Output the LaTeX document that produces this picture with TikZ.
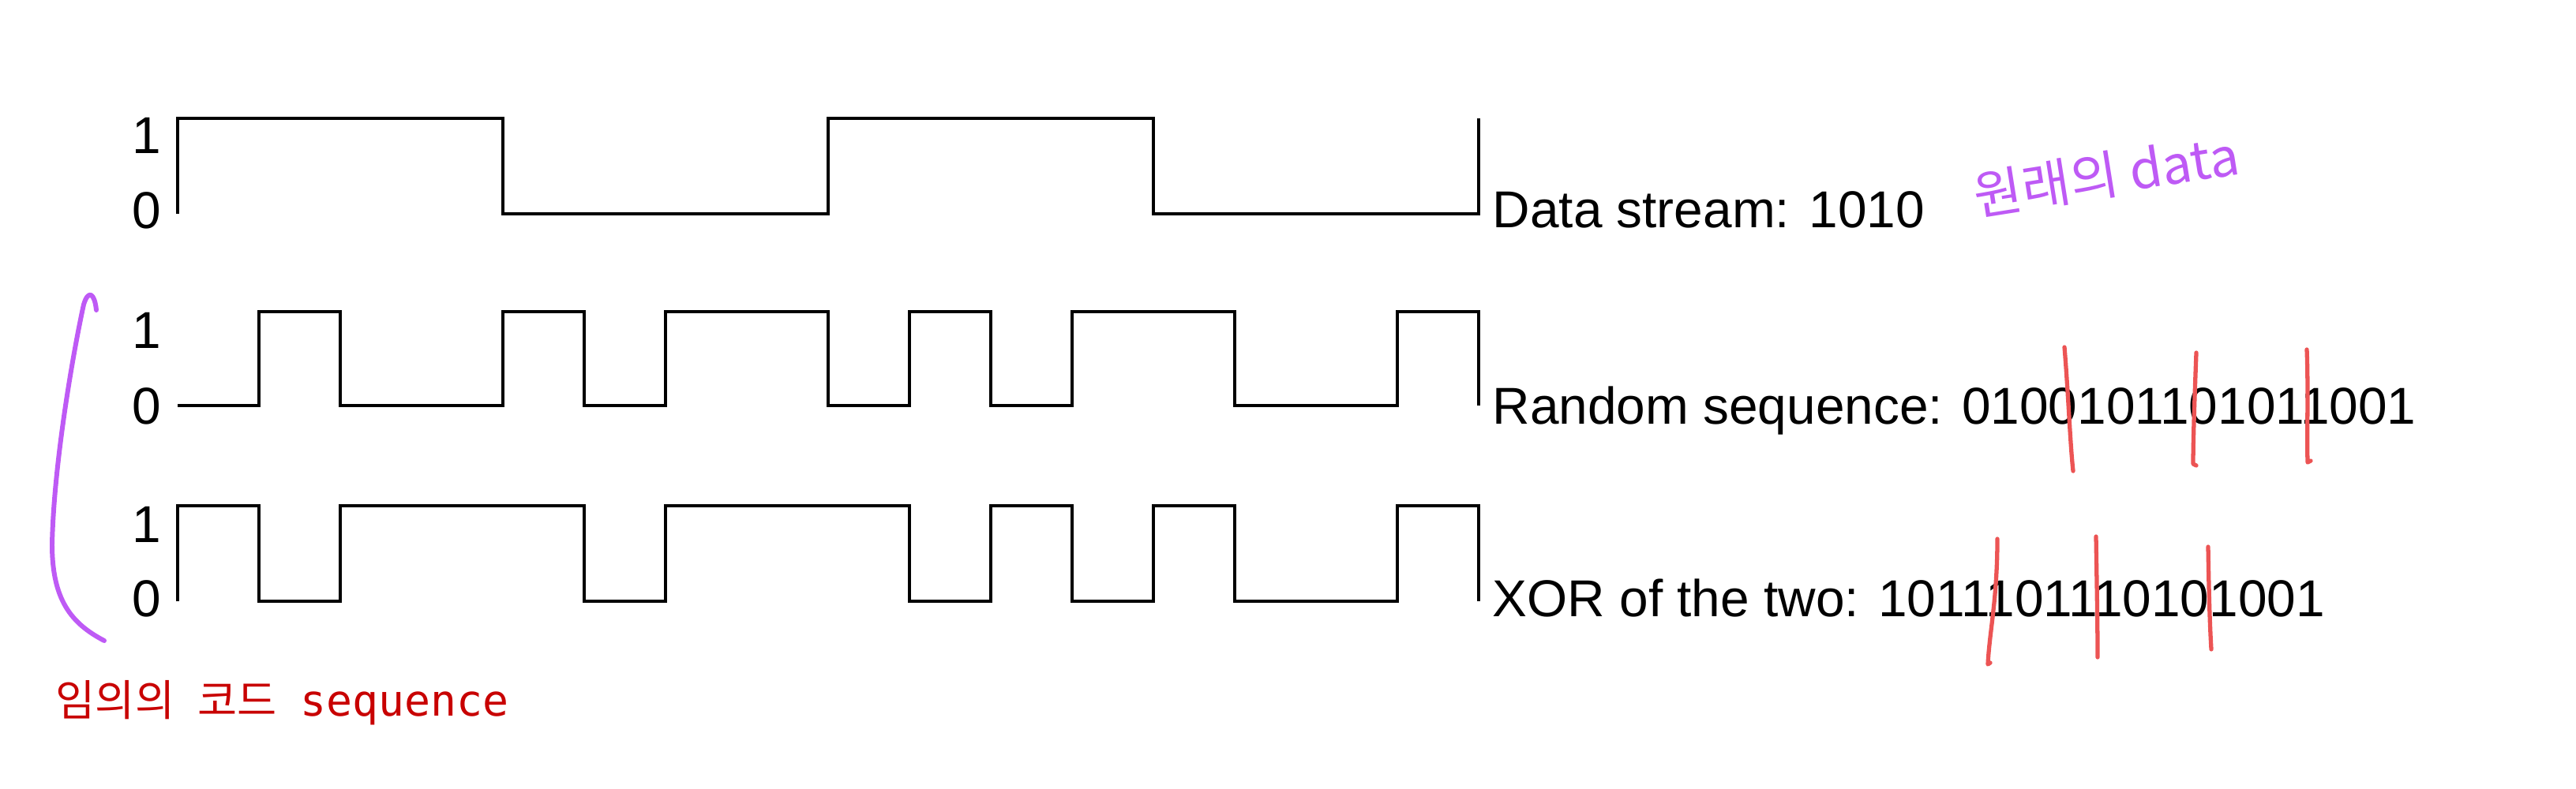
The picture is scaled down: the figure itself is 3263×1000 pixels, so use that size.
\documentclass[tikz,border=0pt]{standalone}
\usepackage{fontspec}
\setmainfont{Liberation Sans}
\newfontfamily\krfont{Noto Sans CJK KR}
\newfontfamily\codefont{DejaVu Sans Mono}
\usepackage{xcolor}
\usetikzlibrary{positioning}
\definecolor{penpurple}{RGB}{190,90,245}
\definecolor{penred}{RGB}{236,84,84}
\definecolor{notered}{RGB}{200,0,0}
\tikzset{
x=0.01cm, y=-0.01cm, % one unit is one pixel of the sketch
wave/.style={line width=1.1pt, black}, % the square waves
level/.style={inner sep=0pt, anchor=base east, font=\fontsize{18.7}{22}\selectfont}, % the 1 and 0 marks
caption/.style={inner sep=0pt, anchor=base west, font=\fontsize{18.7}{22}\selectfont}, % text right of a wave
pen/.style={line width=1.5pt, line cap=round, line join=round}, % hand drawn notes
}
% high y, low y, chips, y of the closing edge
\newcommand{\sigwave}[4]{%
  \draw[wave] (225,#2) \foreach \b [count=\i from 0] in {#3}
    { -- ({225+103*\i},{#2+\b*(#1-#2)}) -- ({328+103*\i},{#2+\b*(#1-#2)}) } -- (1873,#4);
}

\begin{document}
\begin{tikzpicture}
    \useasboundingbox (0,0) rectangle (3263,1000);

    \node[level] (one1) at (205,194) {1};
    \node[level] (zero1) at (205,289) {0};
    \node[level] (one2) at (205,441) {1};
    \node[level] (zero2) at (205,537) {0};
    \node[level] (one3) at (205,687) {1};
    \node[level] (zero3) at (205,781) {0};

    \sigwave{150}{271}{1,1,1,1,0,0,0,0,1,1,1,1,0,0,0,0}{150}
    \sigwave{395}{514}{0,1,0,0,1,0,1,1,0,1,0,1,1,0,0,1}{514}
    \sigwave{641}{762}{1,0,1,1,1,0,1,1,1,0,1,0,1,0,0,1}{762}

    \node[caption] (data) at (1890,288) {Data stream: 1010};
    \node[caption] (rand) at (1890,537) {Random sequence: 0100101101011001};
    \node[caption] (xor) at (1890,781) {XOR of the two: 1011101110101001};

    % notes
    \node[penpurple, rotate=9, font=\krfont\fontsize{19}{22}\selectfont] (orig) at (2668,222) {원래의 data};
    \draw[pen, penpurple, line width=1.7pt] (122,393) .. controls (120,372) and (112,366) .. (106,386)
        .. controls (92,450) and (68,590) .. (66,690)
        .. controls (66,760) and (90,790) .. (132,812);
    \node[notered, inner sep=0pt, anchor=base west] (code) at (70,907)
        {\krfont\fontsize{15.5}{18}\selectfont 임의의\hspace{0.29cm}코드\hspace{0.30cm}\codefont\fontsize{15.6}{18}\selectfont sequence};

    \draw[pen, penred] (2615,440) .. controls (2620,500) and (2622,560) .. (2626,597);
    \draw[pen, penred] (2782,447) .. controls (2780,500) and (2778,560) .. (2778,588) -- (2782,590);
    \draw[pen, penred] (2922,443) .. controls (2924,490) and (2922,550) .. (2923,586) -- (2927,584);
    \draw[pen, penred] (2530,683) .. controls (2530,760) and (2520,800) .. (2518,842) -- (2521,840);
    \draw[pen, penred] (2655,680) .. controls (2656,740) and (2657,790) .. (2657,833);
    \draw[pen, penred] (2797,693) .. controls (2798,750) and (2799,790) .. (2801,823);
\end{tikzpicture}
\end{document}
